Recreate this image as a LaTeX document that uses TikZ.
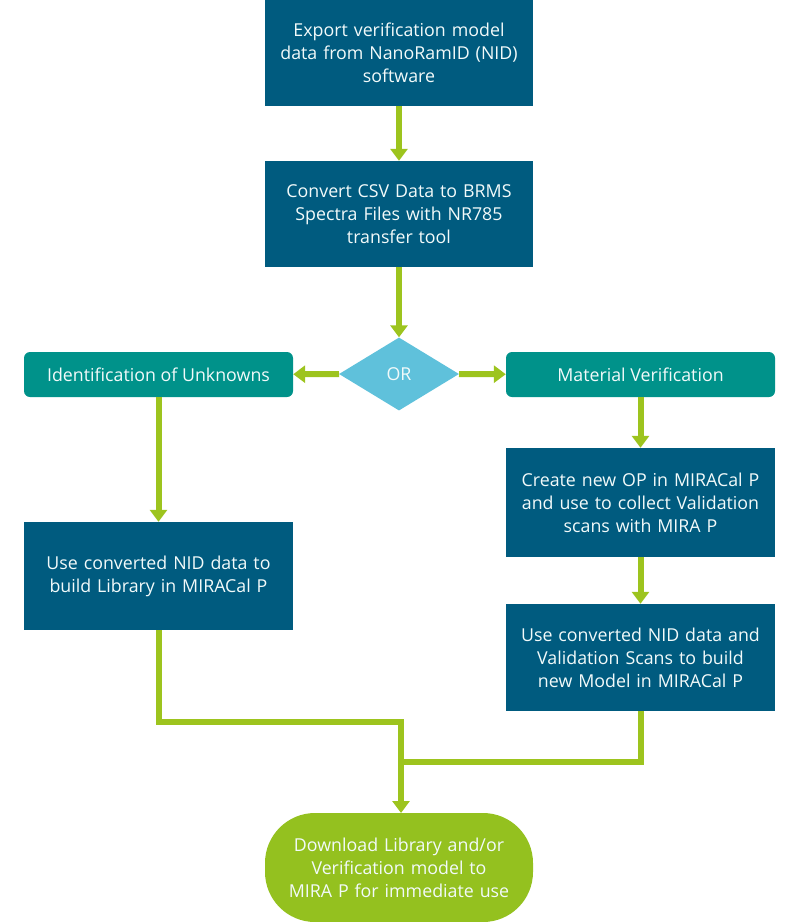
\documentclass[tikz,border=0pt]{standalone}
\usepackage{fontspec}
\setmainfont{Open Sans}
\usetikzlibrary{shapes.geometric,arrows.meta}
\definecolor{boxblue}{HTML}{005B7F}
\definecolor{boxteal}{HTML}{00928A}
\definecolor{diamblue}{HTML}{5FC1DB}
\definecolor{lime}{HTML}{9DC41E}
\definecolor{termgreen}{HTML}{94C11F}
\definecolor{txt}{HTML}{F2FAFA}
\tikzset{
  base/.style={inner sep=0pt, text=txt, align=center,
    font=\fontsize{17.8}{23}\selectfont},
  stepbox/.style={base, rectangle, fill=boxblue, minimum width=268pt, minimum height=106pt, text width=260pt},
  branch/.style={base, rectangle, rounded corners=6pt, fill=boxteal, minimum width=269pt, minimum height=45pt},
  choice/.style={base, diamond, fill=diamblue, minimum width=120pt, minimum height=73pt},
  term/.style={base, rectangle, rounded corners=50pt, fill=termgreen, minimum width=268pt, minimum height=109pt, text width=260pt},
  conn/.style={draw=lime, line width=6pt},
  arr/.style={conn, -{Triangle[width=17pt,length=12pt]}},
}
\begin{document}
\begin{tikzpicture}[x=1pt,y=-1pt]
\useasboundingbox (0,0) rectangle (800,922);
\node[stepbox] (b1) at (399,53) {Export verification model\\data from NanoRamID (NID)\\software};
\node[stepbox] (b2) at (399,214) {Convert CSV Data to BRMS\\Spectra Files with NR785\\transfer tool};
\node[choice] (or) at (399,374) {OR};
\node[branch] (left) at (158.5,374.5) {Identification of Unknowns};
\node[branch] (right) at (640.5,374.5) {Material Verification};
\node[stepbox, minimum width=269pt, minimum height=108pt] (lib) at (158.5,576) {Use converted NID data to\\build Library in MIRACal P};
\node[stepbox, minimum width=269pt, minimum height=109pt] (op) at (640.5,502.5) {Create new OP in MIRACal P\\and use to collect Validation\\scans with MIRA P};
\node[stepbox, minimum width=269pt, minimum height=107pt] (model) at (640.5,657.5) {Use converted NID data and\\Validation Scans to build\\new Model in MIRACal P};
\node[term] (end) at (399,867.5) {Download Library and/or\\Verification model to\\MIRA P for immediate use};

\coordinate (j1) at (158.5,722);
\coordinate (j2) at (401,722);
\coordinate (j3) at (640.5,762);
\coordinate (j4) at (401,762);
\coordinate (j5) at (401,813);

\draw[arr] (b1) -- (b2);
\draw[arr] (b2) -- (or);
\draw[arr] (or) -- (left);
\draw[arr] (or) -- (right);
\draw[arr] (left) -- (lib);
\draw[arr] (right) -- (op);
\draw[arr] (op) -- (model);
\draw[conn] (lib.south) -- (j1) -- ([xshift=3pt]j2);
\draw[conn] (model.south) -- (j3) -- (j4);
\draw[arr] (j2) -- (j5);
\end{tikzpicture}
\end{document}
